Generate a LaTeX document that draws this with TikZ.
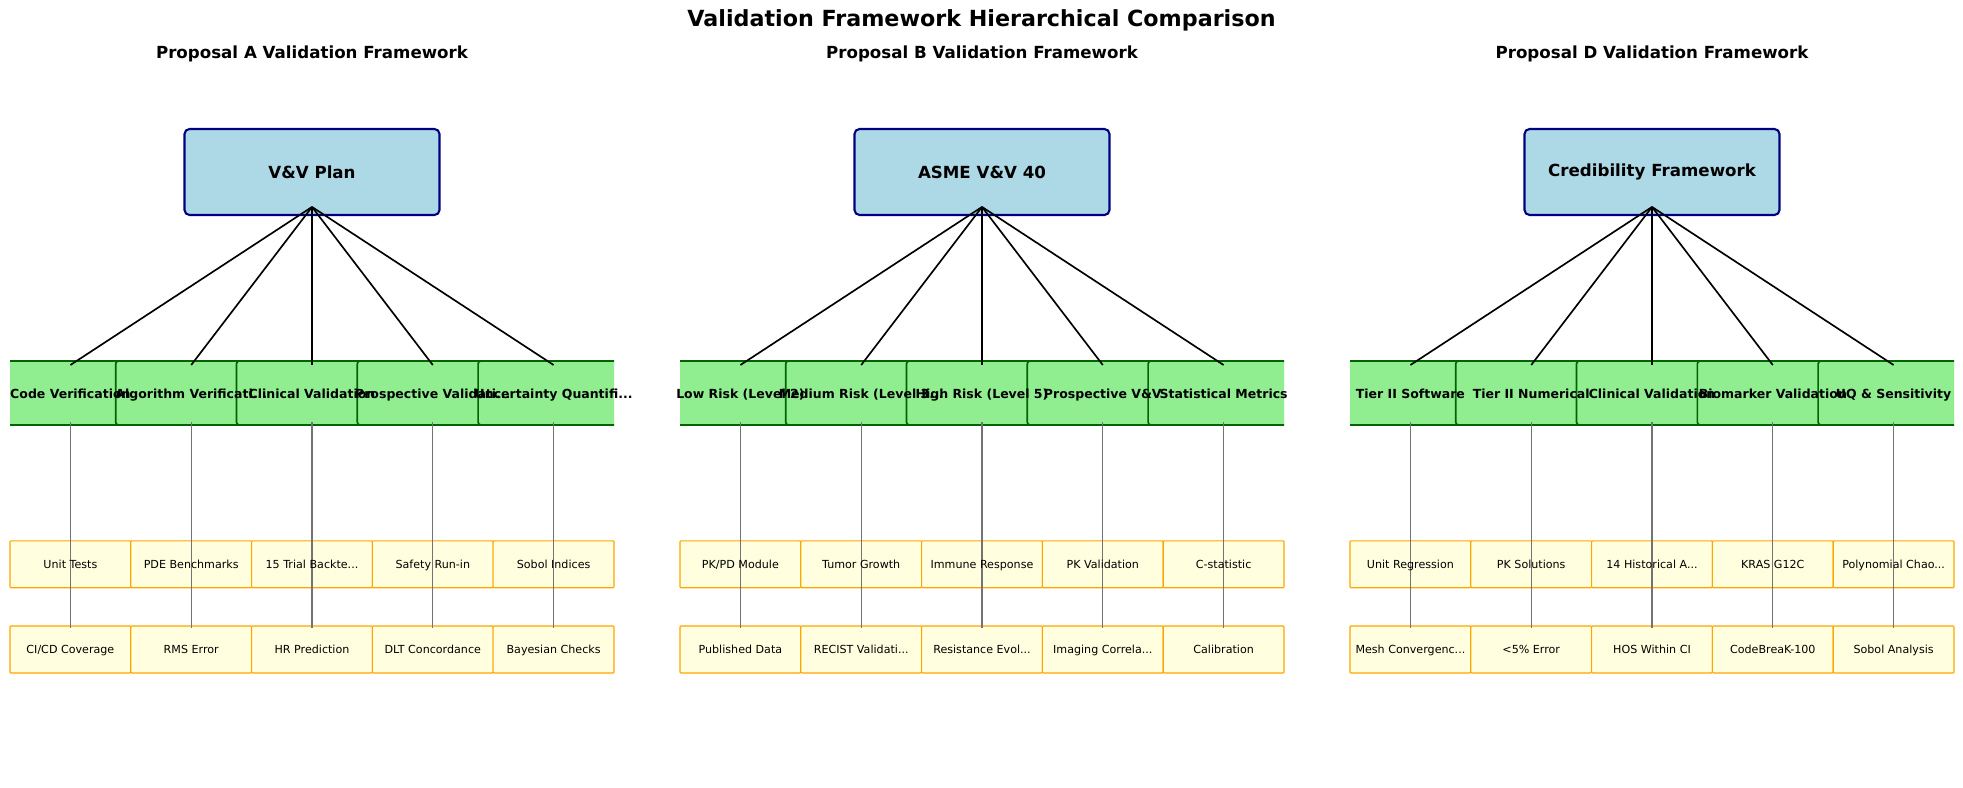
\documentclass[tikz,border=0pt]{standalone}
\usepackage{fontspec}
\setmainfont{DejaVu Sans}
\usepackage{tikz}
\definecolor{rootfill}{HTML}{ADD8E6}
\definecolor{rootedge}{HTML}{000080}
\definecolor{catfill}{HTML}{90EE90}
\definecolor{catedge}{HTML}{006400}
\definecolor{leaffill}{HTML}{FFFFE0}
\definecolor{leafedge}{HTML}{FFA500}
\colorlet{stemcol}{black!55}
\newcommand{\trunc}{...}
\tikzset{
  card/.style     ={rounded corners=2pt, inner sep=0pt, outer sep=0pt},
  Lroot/.style    ={card, fill=rootfill, draw=rootedge, line width=1.5pt,
                    rounded corners=3.6pt, minimum width=183.6pt,
                    minimum height=61.9pt,
                    font=\fontsize{12}{14}\selectfont\bfseries},
  Lcat/.style     ={card, fill=catfill, draw=catedge, line width=1.2pt,
                    minimum width=108.7pt, minimum height=46.1pt},
  Lleaf/.style    ={card, fill=leaffill, draw=leafedge, line width=0.8pt,
                    rounded corners=0.7pt, minimum width=87pt,
                    minimum height=33.8pt},
  cattext/.style  ={font=\fontsize{9}{11}\selectfont\bfseries, anchor=base,
                    yshift=-3.6pt, inner sep=0pt},
  leaftext/.style ={font=\fontsize{8}{10}\selectfont, anchor=base,
                    yshift=-3.1pt, inner sep=0pt},
  branch/.style   ={-, black, line width=1.2pt},
  stem/.style     ={-, stemcol, line width=0.9pt,
                    shorten <=-2pt, shorten >=-1.5pt},
  paneltitle/.style={font=\fontsize{12}{14}\selectfont\bfseries, anchor=base},
  maintitle/.style ={font=\fontsize{16}{19}\selectfont\bfseries, anchor=base},
}

\begin{document}
\begin{tikzpicture}[x=0.72pt, y=-0.72pt]
\useasboundingbox (0,0) rectangle (1963,788);

\node[maintitle] (title) at (981.5,27) {Validation Framework Hierarchical Comparison};

% Proposal A
\node[paneltitle] (A-title) at (312,58) {Proposal A Validation Framework};
\node[Lroot] (A-root) at (312,172) {V\&V Plan};
\begin{scope}
  \clip (10,300) rectangle (614,450);
  \foreach \i in {1,...,5}
    \node[Lcat] (A-c\i) at ({10+120.8*(\i-0.5)},393) {};
\end{scope}
\foreach \i in {1,...,5} {
  \node[Lleaf] (A-u\i) at ({10+120.8*(\i-0.5)},564.3) {};
  \node[Lleaf] (A-v\i) at ({10+120.8*(\i-0.5)},649.5) {};
  \draw[branch] ([yshift=5.8pt]A-root.south) -- ([yshift=-2.9pt]A-c\i.north);
  \draw[stem] (A-c\i.south) -- (A-v\i.north);
}
\foreach \i/\gl/\ul/\vl in {
    1/Code Verification/Unit Tests/{CI/CD Coverage},
    2/Algorithm Verificati\trunc/PDE Benchmarks/RMS Error,
    3/Clinical Validation/15 Trial Backte\trunc/HR Prediction,
    4/Prospective Validati\trunc/Safety Run-in/DLT Concordance,
    5/Uncertainty Quantifi\trunc/Sobol Indices/Bayesian Checks} {
  \node[cattext] (A-ct\i) at (A-c\i) {\gl};
  \node[leaftext] (A-ut\i) at (A-u\i) {\ul};
  \node[leaftext] (A-vt\i) at (A-v\i) {\vl};
}

% Proposal B
\begin{scope}[shift={(670,0)}]
\node[paneltitle] (B-title) at (312,58) {Proposal B Validation Framework};
\node[Lroot] (B-root) at (312,172) {ASME V\&V 40};
\begin{scope}
  \clip (10,300) rectangle (614,450);
  \foreach \i in {1,...,5}
    \node[Lcat] (B-c\i) at ({10+120.8*(\i-0.5)},393) {};
\end{scope}
\foreach \i in {1,...,5} {
  \node[Lleaf] (B-u\i) at ({10+120.8*(\i-0.5)},564.3) {};
  \node[Lleaf] (B-v\i) at ({10+120.8*(\i-0.5)},649.5) {};
  \draw[branch] ([yshift=5.8pt]B-root.south) -- ([yshift=-2.9pt]B-c\i.north);
  \draw[stem] (B-c\i.south) -- (B-v\i.north);
}
\foreach \i/\gl/\ul/\vl in {
    1/Low Risk (Level 2)/{PK/PD Module}/Published Data,
    2/Medium Risk (Level 3\trunc/Tumor Growth/RECIST Validati\trunc,
    3/High Risk (Level 5)/Immune Response/Resistance Evol\trunc,
    4/Prospective V\&V/PK Validation/Imaging Correla\trunc,
    5/Statistical Metrics/C-statistic/Calibration} {
  \node[cattext] (B-ct\i) at (B-c\i) {\gl};
  \node[leaftext] (B-ut\i) at (B-u\i) {\ul};
  \node[leaftext] (B-vt\i) at (B-v\i) {\vl};
}
\end{scope}

% Proposal D
\begin{scope}[shift={(1340,0)}]
\node[paneltitle] (D-title) at (312,58) {Proposal D Validation Framework};
\node[Lroot] (D-root) at (312,172) {Credibility Framework};
\begin{scope}
  \clip (10,300) rectangle (614,450);
  \foreach \i in {1,...,5}
    \node[Lcat] (D-c\i) at ({10+120.8*(\i-0.5)},393) {};
\end{scope}
\foreach \i in {1,...,5} {
  \node[Lleaf] (D-u\i) at ({10+120.8*(\i-0.5)},564.3) {};
  \node[Lleaf] (D-v\i) at ({10+120.8*(\i-0.5)},649.5) {};
  \draw[branch] ([yshift=5.8pt]D-root.south) -- ([yshift=-2.9pt]D-c\i.north);
  \draw[stem] (D-c\i.south) -- (D-v\i.north);
}
\foreach \i/\gl/\ul/\vl in {
    1/Tier II Software/Unit Regression/Mesh Convergenc\trunc,
    2/Tier II Numerical/PK Solutions/<5\% Error,
    3/Clinical Validation/14 Historical A\trunc/HOS Within CI,
    4/Biomarker Validation/KRAS G12C/CodeBreaK-100,
    5/UQ \& Sensitivity/Polynomial Chao\trunc/Sobol Analysis} {
  \node[cattext] (D-ct\i) at (D-c\i) {\gl};
  \node[leaftext] (D-ut\i) at (D-u\i) {\ul};
  \node[leaftext] (D-vt\i) at (D-v\i) {\vl};
}
\end{scope}

\end{tikzpicture}
\end{document}
